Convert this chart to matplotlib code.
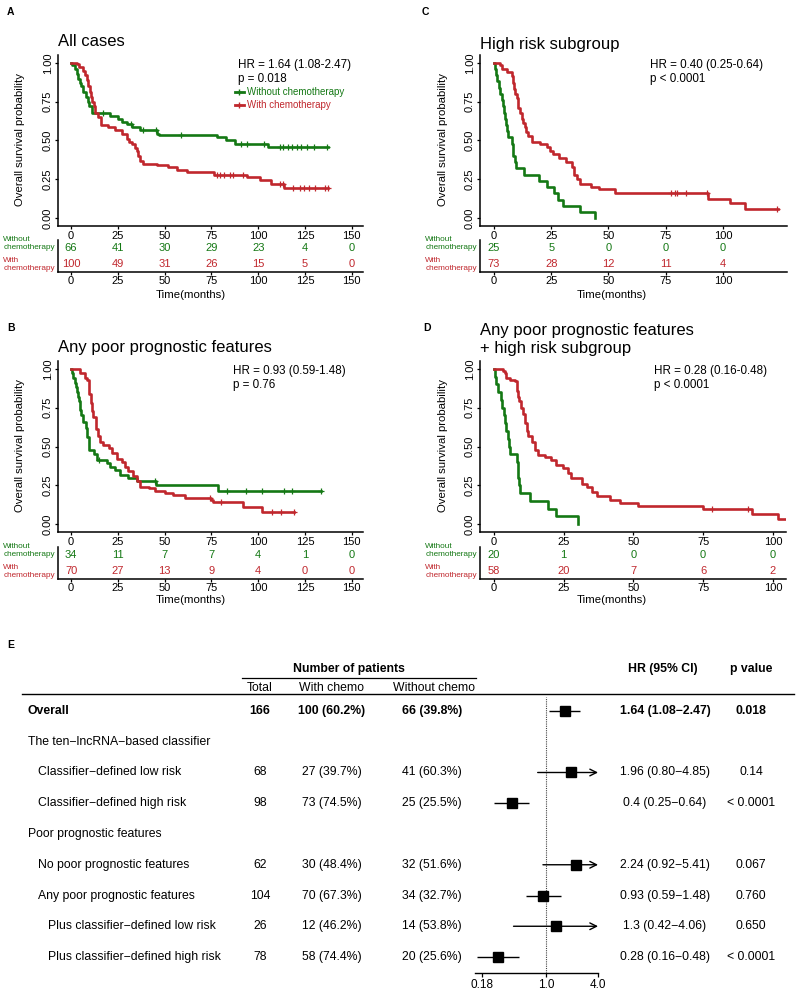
import numpy as np
import matplotlib
matplotlib.use('Agg')
import matplotlib.pyplot as plt
from matplotlib.lines import Line2D
from matplotlib.ticker import NullLocator
from matplotlib.transforms import blended_transform_factory

plt.rcParams['font.family'] = ['Liberation Sans', 'DejaVu Sans']

W, H = 796, 991
GREEN = '#147814'
RED = '#C0272D'

# ---------------- Panel A: all cases ----------------
a_green_t = [0, 0.7, 2.1, 3.0, 3.9, 4.5, 5.2, 6.6, 8.0, 9.0, 9.8, 11, 20.8, 25.3, 27, 29.7, 32.4,
             37, 45.9, 47, 78, 83, 87.5, 105, 137.3]
a_green_s = [1.0, 0.985, 0.96, 0.93, 0.895, 0.87, 0.85, 0.81, 0.78, 0.75, 0.72, 0.68, 0.66, 0.64,
             0.62, 0.605, 0.585, 0.57, 0.545, 0.535, 0.52, 0.50, 0.48, 0.457, 0.457]
a_green_cens = [17, 32, 38.5, 45.5, 59, 91, 94, 103, 111.5, 113.5, 116, 118, 120.5, 123, 126, 130, 137]
a_red_t = [0, 3, 4.4, 6.6, 7.5, 8.5, 9.2, 10.1, 10.8, 11.4, 12.1, 12.8, 14.6, 15.9, 19.8, 23.5, 27,
           29.7, 31, 32.4, 34.2, 35, 36, 36.8, 38.6, 45.7, 52, 56.5, 61.8, 76.5, 94, 100.9, 107, 114, 137.5]
a_red_s = [1.0, 0.99, 0.97, 0.95, 0.92, 0.89, 0.85, 0.81, 0.78, 0.75, 0.72, 0.68, 0.65, 0.60, 0.585,
           0.565, 0.545, 0.51, 0.49, 0.48, 0.45, 0.43, 0.40, 0.37, 0.35, 0.34, 0.33, 0.31, 0.297, 0.28,
           0.265, 0.245, 0.222, 0.195, 0.195]
a_red_cens = [78, 79.6, 81.7, 85, 86.7, 91.7, 111.6, 113, 118.8, 122.4, 124.5, 127.4, 130.4, 135.7, 137.5]
a_ticks = [0, 25, 50, 75, 100, 125, 150]
a_risk_green = [66, 41, 30, 29, 23, 4, 0]
a_risk_red = [100, 49, 31, 26, 15, 5, 0]

# ---------------- Panel C: high risk subgroup ----------------
c_green_t = [0, 0.5, 1.0, 1.2, 2.3, 2.8, 3.3, 3.9, 4.4, 4.8, 5.2, 5.8, 6.3, 7.8, 8.1, 8.4, 9.0, 9.5,
             13.1, 19.8, 23, 26.2, 28.1, 30, 37.5, 44]
c_green_s = [1.0, 0.96, 0.92, 0.88, 0.84, 0.80, 0.76, 0.72, 0.68, 0.64, 0.60, 0.56, 0.52, 0.48, 0.44,
             0.40, 0.36, 0.32, 0.28, 0.24, 0.20, 0.16, 0.12, 0.08, 0.04, 0.0]
c_green_cens = []
c_red_t = [0, 2.5, 3.3, 5.5, 7.7, 8.1, 8.6, 9.1, 9.9, 10.6, 11.3, 12.1, 12.8, 13.5, 14.2, 15, 16.4, 20,
           23, 24.5, 25.9, 28.5, 31.4, 33.9, 35, 36.2, 37.5, 42.6, 46, 52.8, 93.5, 103, 109.5, 124]
c_red_s = [1.0, 0.985, 0.96, 0.94, 0.915, 0.87, 0.83, 0.80, 0.775, 0.71, 0.675, 0.64, 0.61, 0.585, 0.555,
           0.53, 0.49, 0.48, 0.455, 0.435, 0.415, 0.39, 0.36, 0.33, 0.28, 0.25, 0.22, 0.20, 0.185, 0.165,
           0.125, 0.095, 0.06, 0.06]
c_red_cens = [77.5, 79, 80, 84, 93, 123.5]
c_ticks = [0, 25, 50, 75, 100]
c_risk_green = [25, 5, 0, 0, 0]
c_risk_red = [73, 28, 12, 11, 4]

# ---------------- Panel B: any poor prognostic features ----------------
b_green_t = [0, 0.4, 1.2, 2.0, 2.6, 3.2, 3.9, 4.3, 4.8, 5.5, 6.2, 8.0, 8.7, 9.3, 9.8, 12, 13.7, 19,
             20.8, 23.5, 26, 30.5, 35.4, 45.4, 78.6, 133.8]
b_green_s = [1.0, 0.97, 0.94, 0.91, 0.88, 0.85, 0.82, 0.79, 0.735, 0.705, 0.66, 0.62, 0.56, 0.53,
             0.475, 0.45, 0.41, 0.395, 0.37, 0.35, 0.316, 0.30, 0.28, 0.25, 0.215, 0.215]
b_green_cens = [15, 44.6, 83.5, 93.3, 102, 113.6, 118, 133.8]
b_red_t = [0, 4.8, 7.5, 8.7, 9.3, 10.5, 11.2, 11.9, 13.3, 14.5, 15.5, 17.3, 20, 21.8, 24.4, 27, 28.8,
           30.5, 32.9, 35, 36.8, 41.8, 44.6, 50.2, 54.6, 60.9, 75, 76, 92, 101.8, 119]
b_red_s = [1.0, 0.97, 0.94, 0.93, 0.84, 0.78, 0.73, 0.69, 0.615, 0.57, 0.53, 0.51, 0.49, 0.46, 0.42,
           0.40, 0.37, 0.34, 0.31, 0.28, 0.24, 0.23, 0.215, 0.20, 0.19, 0.167, 0.155, 0.145, 0.113,
           0.08, 0.08]
b_red_cens = [74.3, 80, 107.6, 112, 119]
b_ticks = [0, 25, 50, 75, 100, 125, 150]
b_risk_green = [34, 11, 7, 7, 4, 1, 0]
b_risk_red = [70, 27, 13, 9, 4, 0, 0]

# ---------------- Panel D: any poor features + high risk ----------------
d_green_t = [0, 0.3, 0.6, 1.4, 2.6, 3.0, 3.5, 4.0, 4.2, 5.0, 5.5, 5.9, 8.1, 8.5, 8.8, 9.1, 9.3, 12.8,
             19.4, 22.4, 30]
d_green_s = [1.0, 0.95, 0.90, 0.85, 0.80, 0.75, 0.70, 0.65, 0.60, 0.55, 0.50, 0.45, 0.40, 0.35, 0.30,
             0.25, 0.20, 0.15, 0.10, 0.05, 0.0]
d_green_cens = []
d_red_t = [0, 3.3, 4.0, 4.5, 5.7, 7.5, 8.1, 8.6, 9.1, 9.7, 10.3, 11.1, 11.7, 12.3, 13.8, 14.6, 15.8,
           18.2, 20.6, 22.4, 24.8, 26.6, 27.8, 31.4, 33.2, 35, 36.9, 41.6, 45.2, 51.8, 75.1, 92.5, 102, 107]
d_red_s = [1.0, 0.985, 0.97, 0.94, 0.93, 0.92, 0.86, 0.82, 0.79, 0.75, 0.71, 0.65, 0.60, 0.565, 0.53,
           0.48, 0.445, 0.435, 0.41, 0.38, 0.36, 0.33, 0.30, 0.26, 0.24, 0.21, 0.18, 0.155, 0.135,
           0.115, 0.095, 0.065, 0.035, 0.035]
d_red_cens = [78, 91]
d_ticks = [0, 25, 50, 75, 100]
d_risk_green = [20, 1, 0, 0, 0]
d_risk_red = [58, 20, 7, 6, 2]

# ---------------- Panel E: forest table ----------------
row_labels = ['Overall', 'The ten\u2212lncRNA\u2212based classifier', 'Classifier\u2212defined low risk',
              'Classifier\u2212defined high risk', 'Poor prognostic features',
              'No poor prognostic features', 'Any poor prognostic features',
              'Plus classifier\u2212defined low risk', 'Plus classifier\u2212defined high risk']
row_indent = [0, 0, 1, 1, 0, 1, 1, 2, 2]
n_total = ['166', '', '68', '98', '', '62', '104', '26', '78']
n_with = ['100 (60.2%)', '', '27 (39.7%)', '73 (74.5%)', '', '30 (48.4%)', '70 (67.3%)',
          '12 (46.2%)', '58 (74.4%)']
n_without = ['66 (39.8%)', '', '41 (60.3%)', '25 (25.5%)', '', '32 (51.6%)', '34 (32.7%)',
             '14 (53.8%)', '20 (25.6%)']
hr = [1.64, None, 1.96, 0.4, None, 2.24, 0.93, 1.3, 0.28]
hr_lo = [1.08, None, 0.80, 0.25, None, 0.92, 0.59, 0.42, 0.16]
hr_hi = [2.47, None, 4.85, 0.64, None, 5.41, 1.48, 4.06, 0.48]
hr_text = ['1.64 (1.08\u22122.47)', '', '1.96 (0.80\u22124.85)', '0.4 (0.25\u22120.64)', '',
           '2.24 (0.92\u22125.41)', '0.93 (0.59\u22121.48)', '1.3 (0.42\u22124.06)', '0.28 (0.16\u22120.48)']
p_text = ['0.018', '', '0.14', '< 0.0001', '', '0.067', '0.760', '0.650', '< 0.0001']
forest_ticks = [0.18, 1.0, 4.0]
forest_ticklabels = ['0.18', '1.0', '4.0']

fig = plt.figure(figsize=(W / 100, H / 100), dpi=100)


def px_axes(x0, y0, x1, y1):
    return fig.add_axes([x0 / W, 1 - y1 / H, (x1 - x0) / W, (y1 - y0) / H])


def ftext(x, y, s, **kw):
    return fig.text(x / W, 1 - y / H, s, **kw)


def surv_at(t, s, times):
    idx = np.searchsorted(t, times, side='right') - 1
    return np.asarray(s)[idx]


def km_panel(box, tbox, xlim, xticks, curves, risk_green, risk_red):
    ax = px_axes(*box)
    for t, s, cens, col in curves:
        ax.step(t, s, where='post', color=col, lw=1.9)
        if len(cens):
            ax.plot(cens, surv_at(t, s, cens), '+', color=col, ms=4.5, mew=0.9)
    ax.set_xlim(*xlim)
    ax.set_ylim(-0.05, 1.05)
    for sp in ['top', 'right']:
        ax.spines[sp].set_visible(False)
    for sp in ['left', 'bottom']:
        ax.spines[sp].set_linewidth(1.1)
    ax.set_xticks(xticks)
    ax.set_yticks([0, 0.25, 0.5, 0.75, 1.0])
    ax.set_yticklabels(['0.00', '0.25', '0.50', '0.75', '1.00'])
    ax.tick_params(length=2.5, width=0.9, pad=1.2, labelsize=8)
    for lbl in ax.get_yticklabels():
        lbl.set_rotation(90)
        lbl.set_va('center')

    tab = px_axes(*tbox)
    tab.set_xlim(*xlim)
    tab.set_ylim(-0.55, 1.55)
    for sp in ['top', 'right']:
        tab.spines[sp].set_visible(False)
    for sp in ['left', 'bottom']:
        tab.spines[sp].set_linewidth(1.1)
    tab.set_xticks(xticks)
    tab.set_yticks([])
    tab.tick_params(length=2.5, width=0.9, pad=0.6, labelsize=8)
    for x, v in zip(xticks, risk_green):
        tab.text(x, 1, str(v), ha='center', va='center', color=GREEN, fontsize=8)
    for x, v in zip(xticks, risk_red):
        tab.text(x, 0, str(v), ha='center', va='center', color=RED, fontsize=8)
    tr = blended_transform_factory(tab.transAxes, tab.transData)
    tab.text(-0.01, 1.33, 'Without\nchemotherapy', transform=tr, ha='right', va='center',
             multialignment='left', color=GREEN, fontsize=5.9)
    tab.text(-0.01, -0.07, 'With\nchemotherapy', transform=tr, ha='right', va='center',
             multialignment='left', color=RED, fontsize=5.9)
    return ax, tab


# panel A
axA, _ = km_panel((58, 55, 363, 226), (58, 240, 363, 272), (-7, 156), a_ticks,
                  [(a_green_t, a_green_s, a_green_cens, GREEN), (a_red_t, a_red_s, a_red_cens, RED)],
                  a_risk_green, a_risk_red)
handles = [Line2D([], [], color=GREEN, lw=2, marker='+', ms=4, mew=1),
           Line2D([], [], color=RED, lw=2, marker='+', ms=4, mew=1)]
leg = fig.legend(handles, ['Without chemotherapy', 'With chemotherapy'], loc='upper left',
                 bbox_to_anchor=(235 / W, 1 - 87 / H), frameon=False, fontsize=7,
                 handlelength=0.9, handletextpad=0.35, borderpad=0, borderaxespad=0,
                 labelspacing=0.3)
for txt, col in zip(leg.get_texts(), [GREEN, RED]):
    txt.set_color(col)

# panel C
km_panel((480, 55, 787, 226), (480, 240, 787, 272), (-6.1, 128), c_ticks,
         [(c_green_t, c_green_s, c_green_cens, GREEN), (c_red_t, c_red_s, c_red_cens, RED)],
         c_risk_green, c_risk_red)

# panel B
km_panel((58, 361, 363, 532), (58, 547, 363, 579), (-7, 156), b_ticks,
         [(b_green_t, b_green_s, b_green_cens, GREEN), (b_red_t, b_red_s, b_red_cens, RED)],
         b_risk_green, b_risk_red)

# panel D
km_panel((480, 361, 786, 532), (480, 547, 786, 579), (-5, 104.7), d_ticks,
         [(d_green_t, d_green_s, d_green_cens, GREEN), (d_red_t, d_red_s, d_red_cens, RED)],
         d_risk_green, d_risk_red)

# KM titles, labels, stats
for x, y, s in [(58, 42, 'All cases'), (480, 45, 'High risk subgroup'),
                (58, 347, 'Any poor prognostic features'),
                (480, 340, 'Any poor prognostic features\n+ high risk subgroup')]:
    ftext(x, y, s, fontsize=12, ha='left', va='center', linespacing=1.25)
for x, y in [(20, 140), (443, 140), (20, 446), (443, 446)]:
    ftext(x, y, 'Overall survival probability', fontsize=8.2, rotation=90, ha='center', va='center')
for x, y in [(191, 295), (612, 295), (191, 600), (612, 600)]:
    ftext(x, y, 'Time(months)', fontsize=8.2, ha='center', va='center')
for x, y, s1, s2 in [(238, 65, 'HR = 1.64 (1.08-2.47)', 'p = 0.018'),
                     (650, 65, 'HR = 0.40 (0.25-0.64)', 'p < 0.0001'),
                     (233, 371, 'HR = 0.93 (0.59-1.48)', 'p = 0.76'),
                     (654, 371, 'HR = 0.28 (0.16-0.48)', 'p < 0.0001')]:
    ftext(x, y, s1, fontsize=8.4, va='center')
    ftext(x, y + 14, s2, fontsize=8.4, va='center')
for x, y, s in [(7, 12, 'A'), (422, 12, 'C'), (7, 328, 'B'), (423, 328, 'D'), (7, 645, 'E')]:
    ftext(x, y, s, fontsize=7.5, weight='bold', va='center')

# ---------------- forest plot ----------------
axF = px_axes(474.9, 697, 603.3, 973)
axF.set_xscale('log')
axF.set_xlim(0.15, 4.6)
axF.set_ylim(8.52, -0.455)
axF.patch.set_alpha(0)
for sp in ['top', 'right', 'left']:
    axF.spines[sp].set_visible(False)
axF.spines['bottom'].set_bounds(0.15, 4.0)
axF.spines['bottom'].set_linewidth(1.0)
axF.set_xticks(forest_ticks)
axF.set_xticklabels(forest_ticklabels)
axF.xaxis.set_minor_locator(NullLocator())
axF.set_yticks([])
axF.tick_params(axis='x', length=3, width=0.9, pad=1.5, labelsize=8.5)
axF.axvline(1.0, color='#444444', lw=0.8, ls=(0, (1, 1)))

rows = np.arange(len(row_labels))
for i in rows:
    if hr[i] is None:
        continue
    if hr_hi[i] > forest_ticks[-1]:
        axF.annotate('', xy=(forest_ticks[-1], i), xytext=(hr_lo[i], i),
                     arrowprops=dict(arrowstyle='->', lw=1.0, color='black',
                                     shrinkA=0, shrinkB=0, mutation_scale=12))
    else:
        axF.hlines(i, hr_lo[i], hr_hi[i], color='black', lw=1.0)
    axF.plot(hr[i], i, 's', color='black', ms=6.8)

tr = blended_transform_factory(fig.transFigure, axF.transData)
indent_px = [28, 38, 48]
for i in rows:
    w = 'bold' if i == 0 else 'normal'
    kw = dict(transform=tr, va='center', fontsize=8.8, weight=w)
    axF.text(indent_px[row_indent[i]] / W, i, row_labels[i], ha='left', **kw)
    axF.text(260 / W, i, n_total[i], ha='center', **kw)
    axF.text(331.5 / W, i, n_with[i], ha='center', **kw)
    axF.text(432 / W, i, n_without[i], ha='center', **kw)
    axF.text(665 / W, i, hr_text[i], ha='center', **kw)
    axF.text(751 / W, i, p_text[i], ha='center', **kw)

ftext(349, 669, 'Number of patients', fontsize=8.8, weight='bold', ha='center', va='center')
ftext(663, 669, 'HR (95% CI)', fontsize=8.8, weight='bold', ha='center', va='center')
ftext(751, 669, 'p value', fontsize=8.8, weight='bold', ha='center', va='center')
ftext(260, 688, 'Total', fontsize=8.8, ha='center', va='center')
ftext(331.5, 688, 'With chemo', fontsize=8.8, ha='center', va='center')
ftext(434, 688, 'Without chemo', fontsize=8.8, ha='center', va='center')
fig.add_artist(Line2D([242 / W, 476 / W], [1 - 678 / H] * 2, transform=fig.transFigure,
                      color='black', lw=0.9))
fig.add_artist(Line2D([22 / W, 794 / W], [1 - 694 / H] * 2, transform=fig.transFigure,
                      color='black', lw=1.0))

fig.savefig('out.png', dpi=100)
